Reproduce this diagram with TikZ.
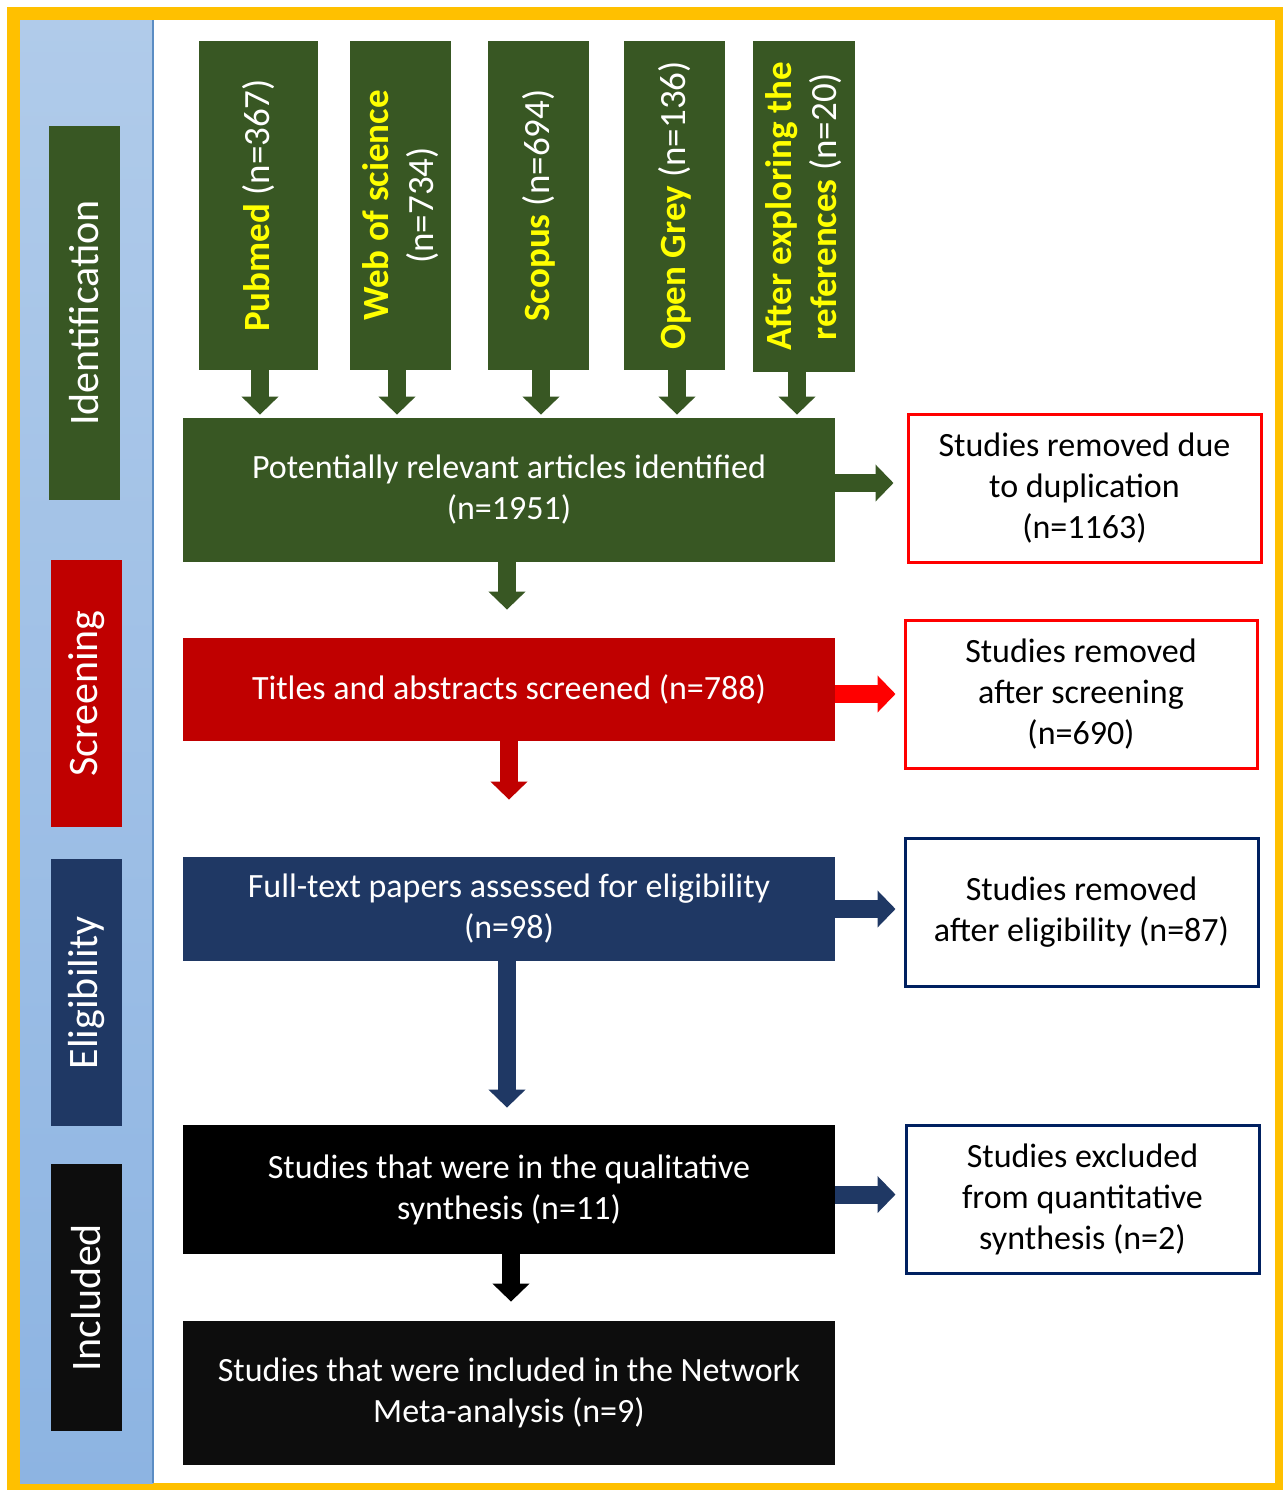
\documentclass[tikz,border=0pt]{standalone}
\usepackage{fontspec}
\setmainfont{Carlito}
\usetikzlibrary{arrows.meta}
\definecolor{dgreen}{HTML}{385723}
\definecolor{dred}{HTML}{C00000}
\definecolor{bred}{HTML}{FF0000}
\definecolor{dblue}{HTML}{1F3864}
\definecolor{navy}{HTML}{002060}
\definecolor{gold}{HTML}{FFC000}
\definecolor{nearblack}{HTML}{0D0D0D}
\definecolor{paneltop}{HTML}{B0CBEA}
\definecolor{panelbot}{HTML}{8DB4E2}
\definecolor{panelline}{HTML}{5B8DC4}
\definecolor{srcyellow}{HTML}{FFFF00}
\begin{document}
\begin{tikzpicture}[x=0.5pt,y=-0.5pt,
  every node/.style={inner sep=2pt, align=center},
  mainfont/.style={font=\fontsize{17}{20.5}\selectfont},
  flowbox/.style={mainfont, minimum width=326pt, text=white, draw=none},
  sidebox/.style={mainfont, minimum width=176.5pt, minimum height=74pt, line width=1.5pt, fill=white, text=black},
  srcbox/.style={rotate=90, fill=dgreen, text=white, minimum width=164.5pt, font=\fontsize{18.5}{22.5}\selectfont},
  phase/.style={rotate=90, text=white, minimum height=35.5pt, minimum width=133.5pt, font=\fontsize{21}{25}\selectfont},
  arr/.style={line width=9pt, -{Triangle[width=18pt,length=9pt]}}
]
% background and frame
\fill[white] (0,0) rectangle (1283,1490);
\fill[gold] (7,7) rectangle (1283,1490);
\fill[white] (20,20) rectangle (1275,1483);
\shade[top color=paneltop, bottom color=panelbot] (20,20) rectangle (153,1483);
\draw[panelline, line width=0.6pt] (153,20) -- (153,1483);

% phase labels
\node[phase, fill=dgreen, minimum width=187pt] (pid) at (84.5,313) {Identification};
\node[phase, fill=dred] (pscr) at (86.5,693.5) {Screening};
\node[phase, fill=dblue] (pel) at (86.5,992.5) {Eligibility};
\node[phase, fill=nearblack] (pinc) at (86.5,1297.5) {Included};

% sources
\node[srcbox, minimum height=59.5pt] (pub) at (258.5,205.5) {{\bfseries\color{srcyellow}Pubmed} (n=367)};
\node[srcbox, minimum height=50.5pt] (wos) at (400.5,205.5) {{\bfseries\color{srcyellow}Web of science}\\(n=734)};
\node[srcbox, minimum height=50.5pt] (sco) at (538.5,205.5) {{\bfseries\color{srcyellow}Scopus} (n=694)};
\node[srcbox, minimum height=50.5pt] (ogr) at (674.5,205.5) {{\bfseries\color{srcyellow}Open Grey} (n=136)};
\node[srcbox, minimum height=51pt, minimum width=165.5pt] (aft) at (804,206.5) {{\bfseries\color{srcyellow}After exploring the}\\{\bfseries\color{srcyellow}references} (n=20)};

% main flow
\node[flowbox, fill=dgreen, minimum height=72pt] (main) at (509,490) {Potentially relevant articles identified\\(n=1951)};
\node[flowbox, fill=dred, minimum height=51.5pt] (scr) at (509,689.5) {Titles and abstracts screened (n=788)};
\node[flowbox, fill=dblue, minimum height=52pt] (elig) at (509,909) {Full-text papers assessed for eligibility\\(n=98)};
\node[flowbox, fill=black, minimum height=64.5pt] (qual) at (509,1189.5) {Studies that were in the qualitative\\synthesis (n=11)};
\node[flowbox, fill=nearblack, minimum height=72pt] (meta) at (509,1393) {Studies that were included in the Network\\Meta-analysis (n=9)};

% side boxes
\node[sidebox, draw=bred] (dup) at (1084.5,488) {Studies removed due\\to duplication\\(n=1163)};
\node[sidebox, draw=bred, minimum width=176pt] (rem2) at (1081,694) {Studies removed\\after screening\\(n=690)};
\node[sidebox, draw=navy] (rem3) at (1081.5,912) {Studies removed\\after eligibility (n=87)};
\node[sidebox, draw=navy] (exc) at (1082.5,1199) {Studies excluded\\from quantitative\\synthesis (n=2)};

% source arrows
\foreach \s/\dx in {pub/0.75pt,wos/-1.75pt,sco/1.25pt,ogr/1.25pt,aft/-3.5pt}
  \draw[arr, dgreen, shorten >=1.5pt] ([xshift=\dx]\s.west) -- ([xshift=\dx]\s.west |- main.north);

% down arrows
\draw[arr, dgreen, shorten >=14pt] ([xshift=-1pt]main.south) -- ([xshift=-1pt]scr.north);
\draw[arr, dred, shorten >=28.5pt] (scr.south) -- (elig.north);
\draw[arr, dblue, shorten >=8.5pt] ([xshift=-1pt]elig.south) -- ([xshift=-1pt]qual.north);
\draw[arr, black, shorten >=9.5pt] ([xshift=1pt]qual.south) -- ([xshift=1pt]meta.north);

% right arrows
\draw[arr, dgreen, shorten >=6.5pt] ([yshift=3.5pt]main.east) -- ([yshift=3.5pt]main.east -| dup.west);
\draw[arr, bred, shorten >=4pt] (scr.east |- rem2.west) -- (rem2.west);
\draw[arr, dblue, shorten >=4pt] (elig.east) -- (elig.east -| rem3.west);
\draw[arr, dblue, shorten >=4.5pt] ([yshift=-2.5pt]qual.east) -- ([yshift=-2.5pt]qual.east -| exc.west);
\end{tikzpicture}
\end{document}
